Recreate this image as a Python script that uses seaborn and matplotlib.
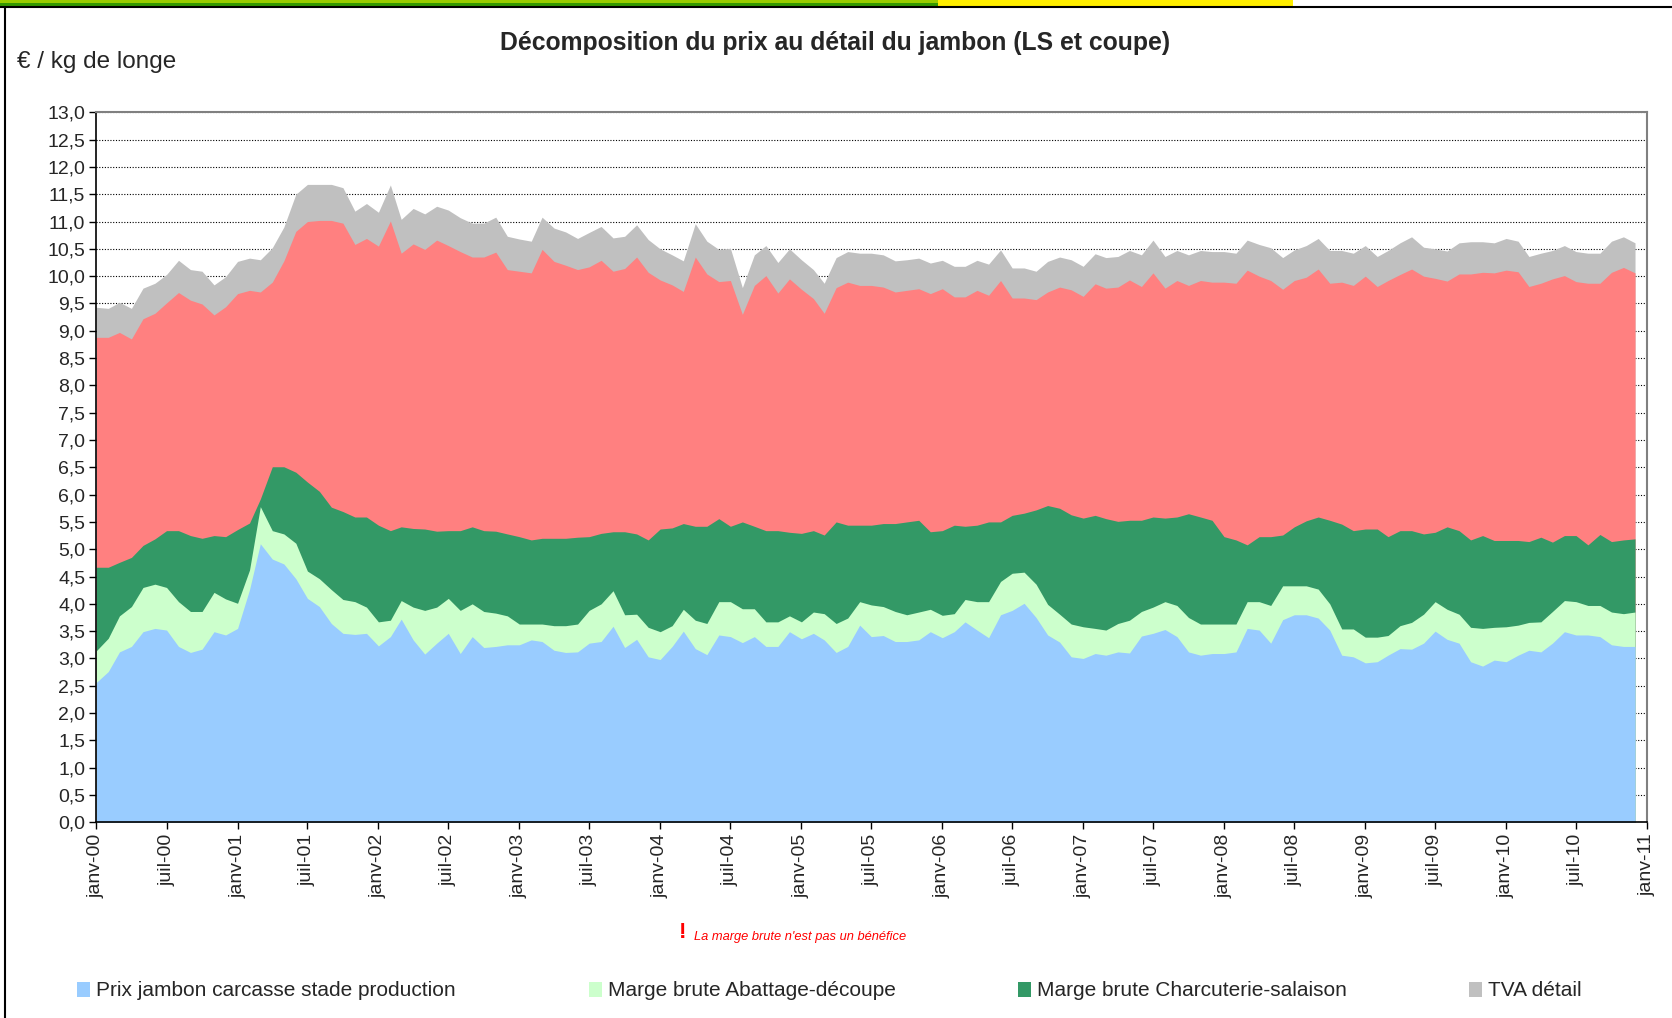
"""
Décomposition du prix au détail du jambon (LS et coupe), janv-00 à déc-10.
Aires empilées : chaque tableau donne le niveau cumulé (haut de la couche) en € / kg de longe.
"""

import numpy as np
import pandas as pd
import matplotlib
matplotlib.use("Agg")
import matplotlib.pyplot as plt
import matplotlib.dates as mdates
import matplotlib.ticker as mtick
from matplotlib.patches import Patch, Rectangle
from matplotlib.lines import Line2D
import seaborn as sns

# ── Style ──────────────────────────────────────────────────────────────────────
sns.set_theme(style="white")
plt.rcParams["font.family"] = ["Liberation Sans", "DejaVu Sans"]

# ── Données (niveaux cumulés) ──────────────────────────────────────────────────
mois = pd.date_range("2000-01-01", periods=132, freq="MS")

prix_production = [
    2.56, 2.76, 3.12, 3.22, 3.49, 3.55, 3.52, 3.22, 3.11, 3.17, 3.49, 3.43, 3.55, 4.26, 5.10,
    4.82, 4.73, 4.46, 4.10, 3.95, 3.64, 3.46, 3.44, 3.46, 3.23, 3.40, 3.72, 3.34, 3.08, 3.28,
    3.46, 3.09, 3.40, 3.20, 3.22, 3.25, 3.25, 3.34, 3.31, 3.15, 3.11, 3.12, 3.28, 3.31, 3.59,
    3.20, 3.35, 3.03, 2.98, 3.22, 3.50, 3.18, 3.07, 3.43, 3.40, 3.29, 3.40, 3.22, 3.22, 3.49,
    3.36, 3.46, 3.34, 3.11, 3.22, 3.61, 3.40, 3.42, 3.31, 3.31, 3.34, 3.49, 3.38, 3.49, 3.67,
    3.52, 3.38, 3.80, 3.88, 4.01, 3.75, 3.43, 3.30, 3.03, 3.00, 3.09, 3.06, 3.12, 3.10,
    3.41, 3.46, 3.53, 3.40, 3.12, 3.06, 3.09, 3.09, 3.12, 3.55, 3.52, 3.28, 3.71, 3.80, 3.80,
    3.74, 3.52, 3.06, 3.03, 2.92, 2.94, 3.06, 3.18, 3.17, 3.28, 3.50, 3.35, 3.28, 2.94, 2.86,
    2.97, 2.94, 3.06, 3.15, 3.12, 3.28, 3.49, 3.43, 3.43, 3.40, 3.25, 3.22, 3.22,
]

cumul_abattage = [
    3.14, 3.37, 3.78, 3.95, 4.30, 4.36, 4.30, 4.04, 3.86, 3.86, 4.21, 4.09, 4.01, 4.62, 5.78,
    5.34, 5.28, 5.11, 4.60, 4.46, 4.26, 4.08, 4.04, 3.94, 3.67, 3.70, 4.06, 3.94, 3.88, 3.94,
    4.10, 3.88, 4.00, 3.86, 3.83, 3.78, 3.63, 3.63, 3.63, 3.60, 3.60, 3.63, 3.88, 4.00, 4.24,
    3.80, 3.81, 3.57, 3.49, 3.60, 3.90, 3.70, 3.64, 4.04, 4.04, 3.91, 3.91, 3.67, 3.67, 3.78,
    3.67, 3.85, 3.82, 3.64, 3.74, 4.04, 3.98, 3.95, 3.86, 3.80, 3.85, 3.90, 3.79, 3.82, 4.08,
    4.04, 4.04, 4.41, 4.56, 4.58, 4.36, 3.99, 3.81, 3.63, 3.58, 3.55, 3.52, 3.64, 3.70,
    3.86, 3.94, 4.04, 3.97, 3.75, 3.63, 3.63, 3.63, 3.63, 4.04, 4.04, 3.97, 4.33, 4.33, 4.33,
    4.27, 4.00, 3.54, 3.54, 3.39, 3.39, 3.42, 3.60, 3.66, 3.81, 4.04, 3.90, 3.81, 3.57, 3.55,
    3.57, 3.58, 3.61, 3.66, 3.67, 3.86, 4.06, 4.04, 3.97, 3.97, 3.85, 3.82, 3.85,
]

cumul_charcuterie = [
    4.67, 4.67, 4.76, 4.85, 5.07, 5.19, 5.34, 5.34, 5.25, 5.20, 5.25, 5.23, 5.36, 5.48, 5.92,
    6.51, 6.51, 6.41, 6.23, 6.06, 5.77, 5.69, 5.59, 5.59, 5.44, 5.34, 5.41, 5.38, 5.37, 5.33,
    5.34, 5.34, 5.41, 5.34, 5.33, 5.28, 5.23, 5.17, 5.20, 5.20, 5.20, 5.22, 5.23, 5.29, 5.32,
    5.32, 5.28, 5.17, 5.37, 5.39, 5.47, 5.42, 5.42, 5.56, 5.42, 5.50, 5.42, 5.34, 5.34, 5.31,
    5.29, 5.34, 5.26, 5.50, 5.44, 5.44, 5.44, 5.47, 5.47, 5.50, 5.53, 5.32, 5.34, 5.44, 5.42,
    5.44, 5.50, 5.50, 5.62, 5.66, 5.72, 5.80, 5.75, 5.63, 5.57, 5.62, 5.56, 5.51, 5.53,
    5.53, 5.59, 5.57, 5.59, 5.65, 5.59, 5.53, 5.23, 5.17, 5.08, 5.23, 5.23, 5.26, 5.41, 5.52,
    5.59, 5.53, 5.46, 5.34, 5.37, 5.37, 5.23, 5.34, 5.34, 5.28, 5.31, 5.41, 5.34, 5.17, 5.25,
    5.16, 5.16, 5.16, 5.14, 5.22, 5.13, 5.25, 5.25, 5.08, 5.27, 5.14, 5.17, 5.19,
]

cumul_distribution = [
    8.88, 8.88, 8.97, 8.85, 9.22, 9.32, 9.51, 9.70, 9.56, 9.49, 9.29, 9.44, 9.68, 9.74, 9.71,
    9.89, 10.28, 10.82, 11.00, 11.02, 11.02, 10.97, 10.58, 10.69, 10.55, 11.01, 10.42, 10.59, 10.49, 10.66,
    10.56, 10.45, 10.35, 10.35, 10.44, 10.12, 10.09, 10.06, 10.49, 10.27, 10.20, 10.12, 10.17, 10.29, 10.09,
    10.14, 10.35, 10.07, 9.93, 9.84, 9.72, 10.35, 10.04, 9.90, 9.92, 9.30, 9.83, 10.01, 9.69, 9.95,
    9.76, 9.59, 9.32, 9.79, 9.89, 9.83, 9.83, 9.80, 9.71, 9.74, 9.77, 9.68, 9.77, 9.62, 9.62,
    9.74, 9.65, 9.92, 9.60, 9.60, 9.57, 9.71, 9.80, 9.75, 9.63, 9.86, 9.78, 9.80, 9.93,
    9.81, 10.06, 9.78, 9.92, 9.83, 9.92, 9.89, 9.89, 9.87, 10.11, 10.00, 9.92, 9.76, 9.92, 9.98,
    10.13, 9.87, 9.89, 9.83, 10.00, 9.81, 9.92, 10.03, 10.13, 10.00, 9.96, 9.91, 10.04, 10.04, 10.07,
    10.06, 10.11, 10.08, 9.81, 9.87, 9.95, 10.01, 9.90, 9.87, 9.87, 10.07, 10.16, 10.06,
]

prix_detail_ttc = [
    9.43, 9.41, 9.52, 9.41, 9.78, 9.87, 10.03, 10.29, 10.12, 10.09, 9.84, 9.99, 10.27, 10.33, 10.30,
    10.52, 10.90, 11.50, 11.68, 11.68, 11.68, 11.62, 11.19, 11.33, 11.17, 11.67, 11.04, 11.24, 11.14, 11.28,
    11.21, 11.07, 10.97, 10.97, 11.08, 10.73, 10.68, 10.64, 11.08, 10.88, 10.81, 10.69, 10.80, 10.91, 10.70,
    10.73, 10.94, 10.67, 10.50, 10.39, 10.28, 10.96, 10.64, 10.49, 10.51, 9.79, 10.39, 10.56, 10.25, 10.50,
    10.30, 10.12, 9.87, 10.34, 10.45, 10.42, 10.42, 10.39, 10.28, 10.30, 10.33, 10.24, 10.29, 10.18, 10.18,
    10.29, 10.22, 10.48, 10.15, 10.15, 10.09, 10.27, 10.35, 10.30, 10.18, 10.41, 10.34, 10.36, 10.47,
    10.39, 10.66, 10.36, 10.47, 10.39, 10.47, 10.45, 10.45, 10.42, 10.66, 10.58, 10.52, 10.34, 10.48, 10.56,
    10.69, 10.47, 10.47, 10.42, 10.56, 10.36, 10.47, 10.61, 10.72, 10.53, 10.50, 10.46, 10.61, 10.63, 10.63,
    10.61, 10.69, 10.64, 10.36, 10.42, 10.47, 10.56, 10.45, 10.42, 10.42, 10.64, 10.72, 10.61,
]

COUCHES = [
    ("TVA détail", prix_detail_ttc, "#C0C0C0"),
    ("Marge brute Distribution", cumul_distribution, "#FF8080"),
    ("Marge brute Charcuterie-salaison", cumul_charcuterie, "#339966"),
    ("Marge brute Abattage-découpe", cumul_abattage, "#CCFFCC"),
    ("Prix jambon carcasse stade production", prix_production, "#99CCFF"),
]
LEGENDE = [
    "Prix jambon carcasse stade production",
    "Marge brute Abattage-découpe",
    "Marge brute Charcuterie-salaison",
    "TVA détail",
]
LEGENDE_X = [77, 589, 1018, 1469]   # position des carrés (px)
MOIS_FR = {1: "janv", 7: "juil"}

W, H = 1672, 1018

# ── Figure ─────────────────────────────────────────────────────────────────────
fig = plt.figure(figsize=(W / 100, H / 100), dpi=100)
fig.patch.set_facecolor("white")
ax = fig.add_axes([96.3 / W, 1 - 822.3 / H, (1647 - 96.3) / W, (822.3 - 112.3) / H])

# aires : chaque couche remplie depuis 0, du haut vers le bas (pas de liseré)
couleurs = {}
for nom, niveau, couleur in COUCHES:
    ax.fill_between(mois, 0, niveau, color=couleur, linewidth=0, label=nom)
    couleurs[nom] = couleur

ax.set_xlim(pd.Timestamp("2000-01-01"), pd.Timestamp("2011-01-01"))
ax.set_ylim(0, 13)
ax.set_yticks(np.arange(0, 13.01, 0.5))
ax.yaxis.set_major_formatter(mtick.FuncFormatter(lambda v, p: f"{v:.1f}".replace(".", ",")))

ax.xaxis.set_major_locator(mdates.MonthLocator(bymonth=(1, 7)))
ax.xaxis.set_major_formatter(mtick.FuncFormatter(
    lambda x, p: f"{MOIS_FR[mdates.num2date(x).month]}-{mdates.num2date(x).year % 100:02d}"))

ax.set_axisbelow(True)
ax.yaxis.grid(True, color="black", linestyle=(0, (1, 1.5)), linewidth=0.8)
ax.xaxis.grid(False)

ax.tick_params(axis="y", direction="out", length=5, width=1, color="black",
               labelsize=14, pad=3, left=True)
ax.tick_params(axis="x", direction="out", length=5, width=1, color="black",
               labelsize=14, pad=3, bottom=True, labelrotation=90)

for cote in ["left", "bottom"]:
    ax.spines[cote].set_color("black")
    ax.spines[cote].set_linewidth(1.2)
for cote in ["top", "right"]:
    ax.spines[cote].set_color("#808080")
    ax.spines[cote].set_linewidth(1.5)

# ── Textes ─────────────────────────────────────────────────────────────────────
fig.text(835 / W, 1 - 43 / H, "Décomposition du prix au détail du jambon (LS et coupe)",
         ha="center", va="center", fontsize=17.8, fontweight="bold")
fig.text(17 / W, 1 - 62 / H, "€ / kg de longe", ha="left", va="center", fontsize=17.5)
fig.text(679 / W, 1 - 933 / H, "!", ha="left", va="center", color="red",
         fontsize=16, fontweight="bold")
fig.text(694 / W, 1 - 937 / H, "La marge brute n'est pas un bénéfice", ha="left", va="center",
         color="red", fontsize=9.3, style="italic")

# ── Légende (une entrée par position) ──────────────────────────────────────────
for nom, x in zip(LEGENDE, LEGENDE_X):
    fig.legend([Patch(facecolor=couleurs[nom], edgecolor="none")], [nom],
               loc="center left", bbox_to_anchor=(x / W, 1 - 991 / H), frameon=False,
               fontsize=15, handlelength=0.6, handleheight=0.7, handletextpad=0.3,
               borderpad=0, borderaxespad=0)

# ── Cadre de la page ───────────────────────────────────────────────────────────
fig.add_artist(Rectangle((0, 1 - 3 / H), 938 / W, 3 / H, transform=fig.transFigure,
                         color="#99CC00", linewidth=0))
fig.add_artist(Rectangle((0, 1 - 6 / H), 938 / W, 3 / H, transform=fig.transFigure,
                         color="#339900", linewidth=0))
fig.add_artist(Rectangle((938 / W, 1 - 6 / H), (1293 - 938) / W, 6 / H,
                         transform=fig.transFigure, color="#FFEE00", linewidth=0))
fig.add_artist(Line2D([0, 1], [1 - 7 / H, 1 - 7 / H], transform=fig.transFigure,
                      color="black", linewidth=1.5))
fig.add_artist(Line2D([5 / W, 5 / W], [0, 1 - 7 / H], transform=fig.transFigure,
                      color="black", linewidth=1.5))

fig.savefig("out.png", dpi=100)
